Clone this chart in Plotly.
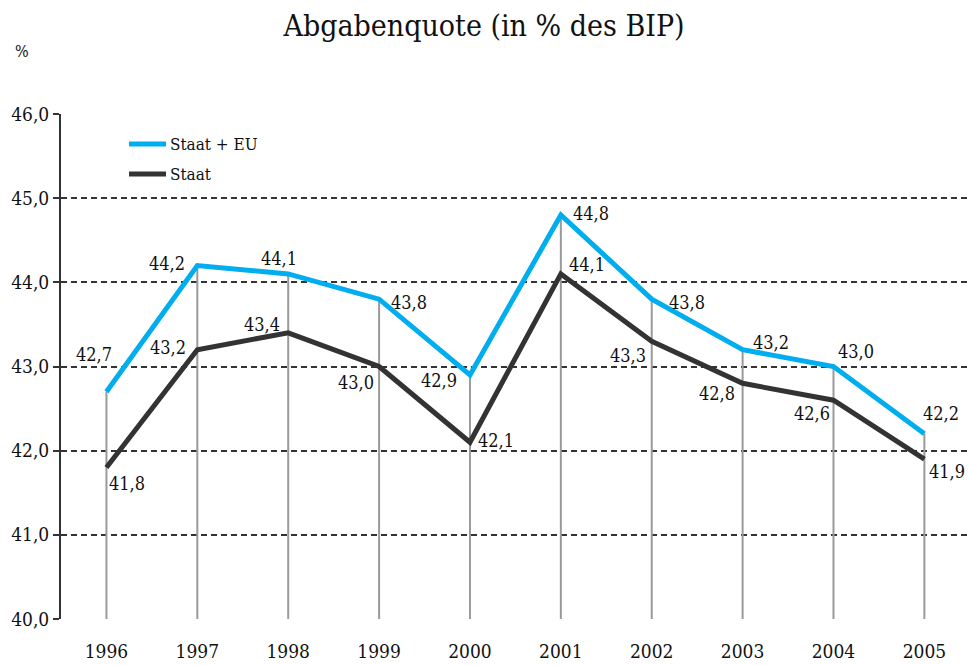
import plotly.graph_objects as go

years = [1996, 1997, 1998, 1999, 2000, 2001, 2002, 2003, 2004, 2005]
staat_eu = [42.7, 44.2, 44.1, 43.8, 42.9, 44.8, 43.8, 43.2, 43.0, 42.2]
staat = [41.8, 43.2, 43.4, 43.0, 42.1, 44.1, 43.3, 42.8, 42.6, 41.9]
y_ticks = [40, 41, 42, 43, 44, 45, 46]
series_names = ["Staat + EU", "Staat"]

FONT = "DejaVu Serif Condensed"
BLUE = "#00aeef"
DARK = "#333333"
TXT = "#111111"

def fmt(v):
    return f"{v:.1f}".replace(".", ",")

# label offsets in pixels (dx right, dy down) relative to each point
off_eu = [(-12, -37), (-30, -2), (-9, -15), (30, 3), (-31, 6),
          (30, -2), (35, 3), (28, -7), (23, -15), (17, -20)]
off_st = [(21, 16), (-29, -2), (-26, -8), (-23, 16), (26, -2),
          (26, -9), (-24, 14), (-26, 10), (-21, 13), (23, 12)]

fig = go.Figure()

# drop lines from axis up to Staat+EU points
dx, dy = [], []
for x, v in zip(years, staat_eu):
    dx += [x, x, None]
    dy += [y_ticks[0], v, None]
fig.add_trace(go.Scatter(x=dx, y=dy, mode="lines", line=dict(color="#9a9a9a", width=2),
                         showlegend=False, hoverinfo="skip"))

fig.add_trace(go.Scatter(x=years, y=staat_eu, mode="lines", name=series_names[0],
                         showlegend=False, line=dict(color=BLUE, width=5)))
fig.add_trace(go.Scatter(x=years, y=staat, mode="lines", name=series_names[1],
                         showlegend=False, line=dict(color=DARK, width=5)))

for series, offs in ((staat_eu, off_eu), (staat, off_st)):
    for x, v, (ox, oy) in zip(years, series, offs):
        fig.add_annotation(x=x, y=v, text=fmt(v), showarrow=False,
                           xshift=ox, yshift=-oy,
                           font=dict(family=FONT, size=18, color=TXT))

# legend (drawn in paper coordinates)
for name, col, ly in zip(series_names, (BLUE, DARK), (0.9406, 0.8812)):
    fig.add_shape(type="line", xref="paper", yref="paper", x0=0.075, x1=0.1158,
                  y0=ly, y1=ly, line=dict(color=col, width=5))
    fig.add_annotation(text=name, xref="paper", yref="paper", x=0.1175, y=ly,
                       xanchor="left", yanchor="middle", showarrow=False,
                       font=dict(family=FONT, size=17, color=TXT))

fig.update_layout(
    width=968, height=665,
    margin=dict(l=61, r=0, t=114, b=46),
    paper_bgcolor="white", plot_bgcolor="white",
    font=dict(family=FONT, size=18, color=TXT),
    title=dict(text="Abgabenquote (in % des BIP)", x=0.5, xanchor="center",
               xref="container", yref="container",
               y=0.9624, yanchor="middle", font=dict(family=FONT, size=30, color=TXT)),
    separators=",.",
    showlegend=False,
)
fig.update_xaxes(range=[1995.5, 2005.48], tickvals=years, ticktext=[str(y) for y in years],
                 showgrid=False, zeroline=False, showline=False, ticks="",
                 automargin=False,
                 tickfont=dict(family=FONT, size=19, color=TXT), ticklabelstandoff=19)
fig.update_yaxes(range=[40, 46], tickvals=y_ticks, tickformat=".1f",
                 showgrid=True, gridcolor="#333333", griddash="6px,4px", gridwidth=1.5,
                 zeroline=False, showline=True, linecolor="#333333", linewidth=2,
                 ticks="outside", ticklen=6, tickcolor="#333333", tickwidth=1.5,
                 automargin=False,
                 tickfont=dict(family=FONT, size=19, color=TXT))
fig.add_annotation(text="%", x=-0.043, y=1.123, xref="paper", yref="paper",
                   xanchor="center", yanchor="middle",
                   showarrow=False, font=dict(family=FONT, size=16, color=TXT))

fig.write_html("out.html", config={"displayModeBar": False},
               post_script="document.body.style.margin='0';document.body.style.overflow='hidden';")
